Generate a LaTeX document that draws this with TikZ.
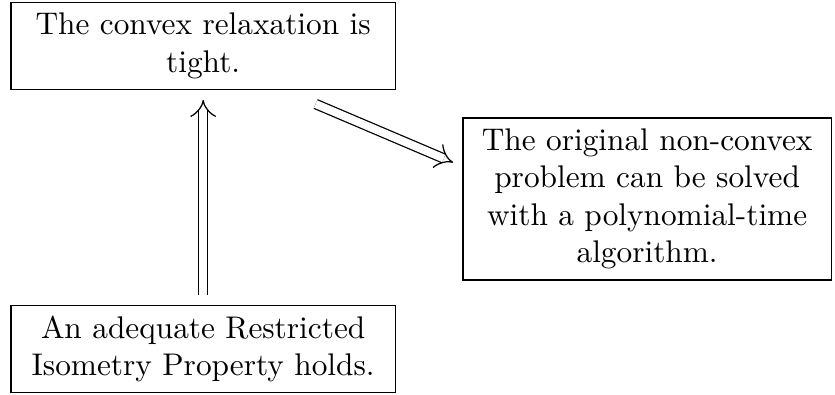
\documentclass[tikz,border=0pt]{standalone}
\usetikzlibrary{arrows.meta, positioning}

\begin{document}
\begin{tikzpicture}[
      claim/.style={draw, align=center, text width=4.08cm, inner sep=3.33pt},
      impl/.style={double, double distance=2.55pt, -{Implies}}
    ]
    \useasboundingbox (0,0) rectangle (9.37,-4.43);
    \node[claim] (tight) at (2.28,-0.516) {The convex relaxation is\\tight.};
    \node[claim] (rip) at (2.28,-3.917) {An adequate Restricted\\Isometry Property holds.};
    \node[claim, text width=3.9cm] (poly) at (7.262,-2.233)
      {The original non-convex\\problem can be solved\\with a polynomial-time\\algorithm.};
    \draw[impl, shorten <=3.2pt, shorten >=3.2pt] (rip.north) -- (tight.south);
    \draw[impl, shorten <=11.5pt, shorten >=3.2pt] (tight.-29) -- (poly.170);
  \end{tikzpicture}
\end{document}
